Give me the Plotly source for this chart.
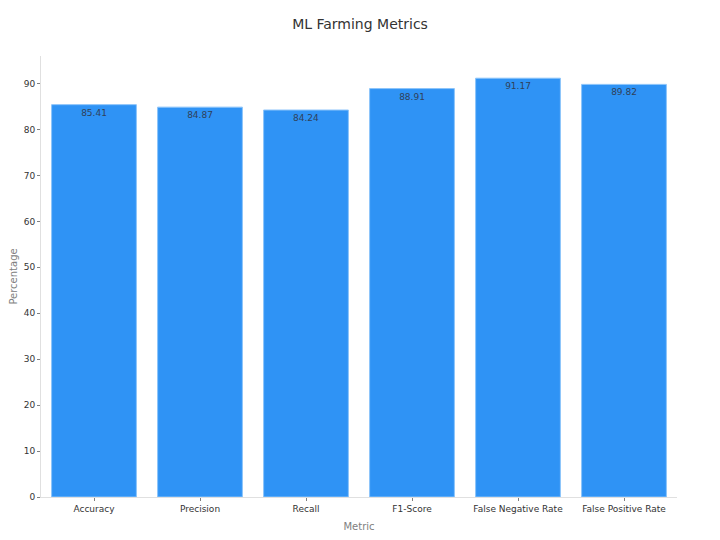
import plotly.graph_objects as go

metrics = ["Accuracy", "Precision", "Recall", "F1-Score", "False Negative Rate", "False Positive Rate"]
values = [85.41, 84.87, 84.24, 88.91, 91.17, 89.82]

fig = go.Figure()
fig.add_trace(
    go.Bar(
        x=metrics,
        y=values,
        text=[f"{v:.2f}" for v in values],
        textposition="inside",
        insidetextanchor="end",
        textfont=dict(size=9, color="#2f4159"),
        marker=dict(color="#2f93f5", line=dict(color="#8cc4fa", width=1)),
    )
)

fig.update_layout(
    title=dict(text="ML Farming Metrics", x=0.5, xanchor="center", y=0.969, yanchor="middle",
               font=dict(size=14, color="#333333")),
    font=dict(family="DejaVu Sans", size=9, color="#333333"),
    plot_bgcolor="white",
    paper_bgcolor="white",
    margin=dict(l=33, r=35, t=48, b=35),
    bargap=0.2,
    showlegend=False,
    xaxis=dict(
        title=dict(text="Metric", font=dict(size=10, color="#808080"), standoff=15),
        automargin=False,
        showline=True, linecolor="#e0e0e0", ticks="outside", tickcolor="#808080", ticklen=3,
        showgrid=False,
    ),
    yaxis=dict(
        title=dict(text="Percentage", font=dict(size=10, color="#808080"), standoff=15),
        automargin=False,
        showline=True, linecolor="#e0e0e0", ticks="outside", tickcolor="#808080", ticklen=3,
        showgrid=False, zeroline=False, dtick=10, range=[0, 96],
    ),
)

fig.write_html("out.html")
